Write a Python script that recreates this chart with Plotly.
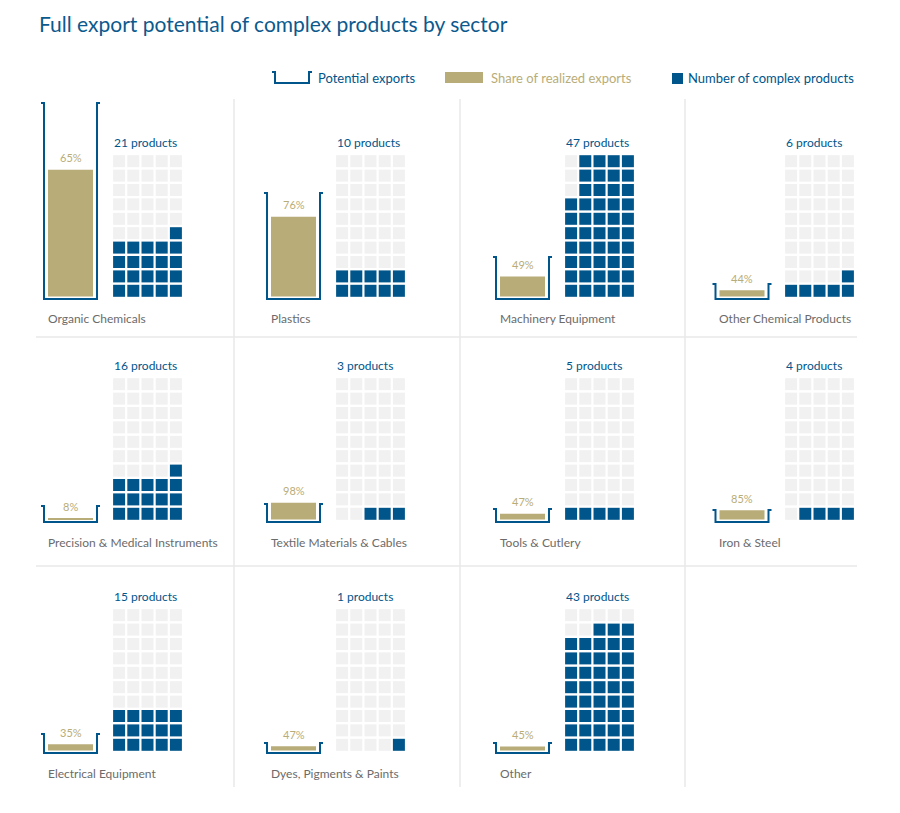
import plotly.graph_objects as go

# Data
sectors = ["Organic Chemicals", "Plastics", "Machinery Equipment", "Other Chemical Products",
           "Precision & Medical Instruments", "Textile Materials & Cables", "Tools & Cutlery", "Iron & Steel",
           "Electrical Equipment", "Dyes, Pigments & Paints", "Other"]
# height of the "potential exports" container (relative units, estimated)
potential_exports = [195, 105, 41, 14, 15, 17, 12, 11, 18, 9, 9]
# share of the potential that is realized (%)
realized_share = [65, 76, 49, 44, 8, 98, 47, 85, 35, 47, 45]
# number of complex products (one square each, 50-square waffle)
complex_products = [21, 10, 47, 6, 16, 3, 5, 4, 15, 1, 43]
# how the waffle is filled in the original
fill_order = ["rows", "rows", "columns", "rows", "rows", "rows", "rows", "rows", "rows", "rows", "rows"]

BLUE = "#00558a"
GOLD = "#b8ad78"
EMPTY = "#f1f1f1"
GREY_TXT = "#6b6b6b"
SEP = "#e8e8e8"
FONT = "Lato, sans-serif"

W, H = 900, 813
PAGE_OFFSET = 8  # the html body has an 8px margin
# layout of the 4 x 3 grid of panels (pixels)
col_center = [70.5, 293.5, 522.5, 742]
waffle_left = [112, 335, 564, 784]
row_base = [298, 521, 752]
pitch_x, pitch_y = 14.2, 14.4


def fx(px):
    return (px - PAGE_OFFSET) / W


def fy(py):
    return 1 - (py - PAGE_OFFSET) / H


def waffle_cells(n, mode):
    xs, ys, cols = [], [], []
    for k in range(50):
        if mode == "rows":
            row, col = k // 5, 4 - k % 5
        else:
            col, row = 4 - k // 10, k % 10
        xs.append(col)
        ys.append(row)
        cols.append(BLUE if k < n else EMPTY)
    return xs, ys, cols


fig = go.Figure()
layout_axes = {}
annotations = []

for i, name in enumerate(sectors):
    r, c = divmod(i, 4)
    nb, nw = 2 * i + 1, 2 * i + 2
    sb = "" if nb == 1 else str(nb)
    sw = str(nw)
    cx, base = col_center[c], row_base[r]
    pot = potential_exports[i]
    share = realized_share[i]

    # container + bar axis (1 unit = 1 px vertically)
    layout_axes["xaxis" + sb] = dict(domain=[fx(cx - 30), fx(cx + 30)], range=[-0.6, 0.6],
                                     visible=False, anchor="y" + sb, fixedrange=True)
    layout_axes["yaxis" + sb] = dict(domain=[fy(base + 4), fy(base - 200)], range=[-4, 200],
                                     visible=False, anchor="x" + sb, fixedrange=True)
    # waffle axis
    wl = waffle_left[c]
    layout_axes["xaxis" + sw] = dict(domain=[fx(wl), fx(wl + 5 * pitch_x)], range=[-0.5, 4.5],
                                     visible=False, anchor="y" + sw, fixedrange=True)
    layout_axes["yaxis" + sw] = dict(domain=[fy(base), fy(base - 10 * pitch_y)], range=[-0.5, 9.5],
                                     visible=False, anchor="x" + sw, fixedrange=True)

    fig.add_trace(go.Bar(x=[0], y=[pot * share / 100], base=[1.5], width=0.9,
                         marker=dict(color=GOLD, line=dict(width=0)),
                         xaxis="x" + sb, yaxis="y" + sb, hoverinfo="skip"))
    fig.add_trace(go.Scatter(x=[-0.59, -0.53, -0.53, 0.53, 0.53, 0.59],
                             y=[pot, pot, -1, -1, pot, pot], mode="lines",
                             line=dict(color=BLUE, width=2), xaxis="x" + sb, yaxis="y" + sb,
                             hoverinfo="skip"))
    xs, ys, cols = waffle_cells(complex_products[i], fill_order[i])
    fig.add_trace(go.Scatter(x=xs, y=ys, mode="markers",
                             marker=dict(symbol="square", size=12, color=cols, line=dict(width=0)),
                             xaxis="x" + sw, yaxis="y" + sw, hoverinfo="skip"))

    annotations.append(dict(x=0, y=1.5 + pot * share / 100, xref="x" + sb, yref="y" + sb,
                            text=f"{share}%", showarrow=False, yanchor="middle", yshift=12,
                            font=dict(size=11, color=GOLD, family=FONT)))
    annotations.append(dict(x=-0.5, y=9.5, xref="x" + sw, yref="y" + sw,
                            text=f"{complex_products[i]} products", showarrow=False,
                            xanchor="left", yanchor="bottom", yshift=2,
                            font=dict(size=12, color=BLUE, family=FONT)))
    annotations.append(dict(x=fx(cx - 25), y=fy(base + 21), xref="paper", yref="paper",
                            text=name, showarrow=False, xanchor="left", yanchor="middle",
                            font=dict(size=12, color=GREY_TXT, family=FONT)))

# title
annotations.append(dict(x=fx(37), y=fy(24), xref="paper", yref="paper",
                        text="Full export potential of complex products by sector", showarrow=False,
                        xanchor="left", yanchor="middle", font=dict(size=21, color="#0b5a8e", family=FONT)))
# legend texts
annotations.append(dict(x=fx(316), y=fy(78), xref="paper", yref="paper", text="Potential exports",
                        showarrow=False, xanchor="left", yanchor="middle",
                        font=dict(size=13, color=BLUE, family=FONT)))
annotations.append(dict(x=fx(489), y=fy(78), xref="paper", yref="paper", text="Share of realized exports",
                        showarrow=False, xanchor="left", yanchor="middle",
                        font=dict(size=13, color=GOLD, family=FONT)))
annotations.append(dict(x=fx(686), y=fy(78), xref="paper", yref="paper", text="Number of complex products",
                        showarrow=False, xanchor="left", yanchor="middle",
                        font=dict(size=13, color=BLUE, family=FONT)))

shapes = []
# separators
for sx in [234, 460, 685]:
    shapes.append(dict(type="line", xref="paper", yref="paper", x0=fx(sx), x1=fx(sx),
                       y0=fy(99), y1=fy(787), line=dict(color=SEP, width=1.5)))
for sy in [337, 566]:
    shapes.append(dict(type="line", xref="paper", yref="paper", x0=fx(36), x1=fx(857),
                       y0=fy(sy), y1=fy(sy), line=dict(color=SEP, width=1.5)))
# legend symbols
shapes.append(dict(type="path", xref="paper", yref="paper",
                   path=f"M {fx(272)},{fy(72)} L {fx(275)},{fy(72)} L {fx(275)},{fy(83)} "
                        f"L {fx(309)},{fy(83)} L {fx(309)},{fy(72)} L {fx(312)},{fy(72)}",
                   line=dict(color=BLUE, width=2)))
shapes.append(dict(type="rect", xref="paper", yref="paper", x0=fx(445), x1=fx(483),
                   y0=fy(83), y1=fy(72), fillcolor=GOLD, line=dict(width=0)))
shapes.append(dict(type="rect", xref="paper", yref="paper", x0=fx(672), x1=fx(683),
                   y0=fy(84), y1=fy(73), fillcolor=BLUE, line=dict(width=0)))

fig.update_layout(
    width=W, height=H,
    margin=dict(l=0, r=0, t=0, b=0),
    paper_bgcolor="white", plot_bgcolor="white",
    showlegend=False,
    annotations=annotations,
    shapes=shapes,
    font=dict(family=FONT),
    **layout_axes
)

fig.write_html("out.html")
